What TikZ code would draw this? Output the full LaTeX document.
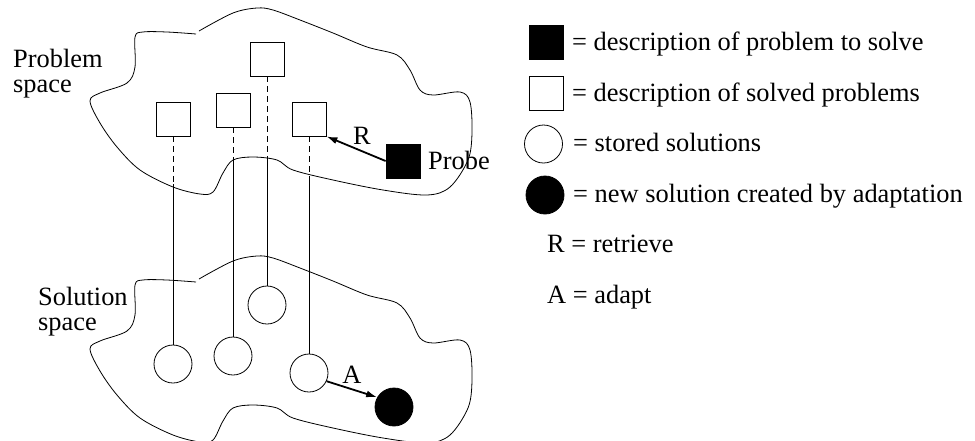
\documentclass[tikz,border=0pt]{standalone}
\usepackage{fontspec}
\setmainfont{Liberation Serif}
\usetikzlibrary{arrows.meta,positioning}

\begin{document}
\begin{tikzpicture}[x=1pt,y=-1pt,font=\fontsize{26.4}{25}\selectfont,
	case/.style={draw,line width=0.8pt,minimum size=34pt,inner sep=0pt},
	probecase/.style={case,fill=black},
	sol/.style={draw,circle,line width=0.8pt,minimum size=38pt,inner sep=0pt},
	newsol/.style={sol,fill=black},
	act/.style={line width=1.8pt,-{Latex[length=11pt,width=7pt]}},
	txt/.style={inner sep=0pt,anchor=base west}]
	\useasboundingbox (0,0) rectangle (975,440);
	\clip (0,0) rectangle (975,440);
	% the two spaces
	\foreach \dy in {0,248}
	  \draw[line width=0.8pt,shift={(0,\dy)}] plot[smooth,tension=0.55] coordinates {
		(199,31) (233,13) (257,8) (273,10) (300,20) (333,33) (367,47) (397,55)
		(410,70) (420,90) (433,95) (460,92) (470,102) (472,133) (468,160)
		(450,187) (427,195) (383,190) (333,180) (293,170) (277,160) (253,157)
		(233,160) (223,173) (213,192) (200,194) (173,187) (140,170) (117,147)
		(100,123) (90,101) (100,93) (127,83) (135,67) (135,37) (143,32)
		(167,32) (196,34)};
	\node[anchor=west,align=left,inner sep=0pt,font=\fontsize{26.4}{25}\selectfont]	(plab) at (13,73.5) {Problem\\space};
	\node[anchor=west,align=left,inner sep=0pt,font=\fontsize{26.4}{25}\selectfont]	(slab) at (38,311.5) {Solution\\space};
	% cases
	\node[case]	(s1) at (173,119) {};
	\node[case]	(s2) at (233,110) {};
	\node[case]	(s3) at (267,59) {};
	\node[case]	(s4) at (309,119) {};
	\node[probecase]	(probe) at (403,161) {};
	\node[txt]	(ptxt) at (428,169) {Probe};
	% solutions
	\node[sol]	(c1) at (173,364) {};
	\node[sol]	(c2) at (233,356) {};
	\node[sol]	(c3) at (267,305) {};
	\node[sol]	(c4) at (309,373) {};
	\node[newsol]	(ns) at (394,407) {};
	% where the lines leave the problem space
	\coordinate (cut1) at (173,184);
	\coordinate (cut2) at (233,162);
	\coordinate (cut3) at (267,158);
	\coordinate (cut4) at (309,177);
	\foreach \i in {1,2,3,4} {
	  \draw[line width=0.8pt,dash pattern=on 6pt off 4pt] (s\i.south) -- (cut\i);
	  \draw[line width=0.8pt] (cut\i) -- (c\i.north);
	}
	\draw[act]	(probe.west) -- (s4.south east);
	\node[inner sep=0pt]	(rl) at (362,136) {R};
	\draw[act]	(c4.-25) -- (ns.150);
	\node[inner sep=0pt]	(al) at (352,375) {A};
	% legend
	\node[probecase]	(k1) at (546.5,42) {};
	\node[case]	(k2) at (546.5,93) {};
	\node[sol]	(k3) at (543.5,144) {};
	\node[newsol]	(k4) at (545,195) {};
	\node[txt]	(t1) at (572,50.5) {= description of problem to solve};
	\node[txt]	(t2) at (572,101) {= description of solved problems};
	\node[txt]	(t3) at (573,151.5) {= stored solutions};
	\node[txt]	(t4) at (573,202) {= new solution created by adaptation};
	\node[txt]	(t5) at (547,252.5) {R = retrieve};
	\node[txt]	(t6) at (547,303) {A = adapt};
\end{tikzpicture}
\end{document}
